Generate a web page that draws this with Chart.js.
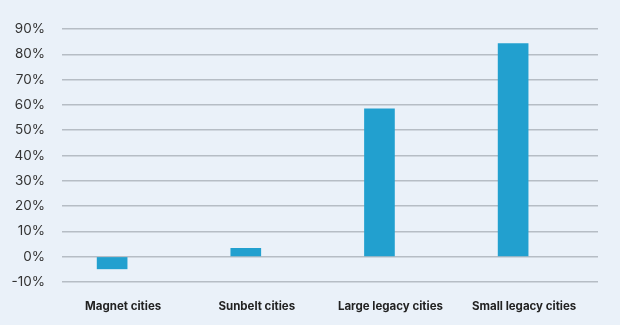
<!DOCTYPE html>
<html>
<head>
<meta charset="utf-8">
<script src="https://cdn.jsdelivr.net/npm/chart.js@4"></script>
<style>
  html, body { margin: 0; padding: 0; background: #eaf1f9; }
  #wrap { width: 620px; height: 325px; position: relative; }
</style>
</head>
<body>
<div id="wrap"><canvas id="chart"></canvas></div>
<script>
const categories = ['Magnet cities', 'Sunbelt cities', 'Large legacy cities', 'Small legacy cities'];
const changePct = [-4.8, 3.3, 58.4, 84.2];
const yTicks = [-10, 0, 10, 20, 30, 40, 50, 60, 70, 80, 90];

const ctx = document.getElementById('chart').getContext('2d');
new Chart(ctx, {
  type: 'bar',
  data: {
    datasets: [{
      data: changePct.map((v, i) => ({ x: i, y: v })),
      backgroundColor: '#22a0cf',
      barThickness: 30
    }]
  },
  options: {
    responsive: true,
    maintainAspectRatio: false,
    animation: false,
    layout: { padding: { left: 0, right: 22, top: 29, bottom: 0 } },
    plugins: { legend: { display: false }, tooltip: { enabled: false } },
    scales: {
      x: {
        type: 'linear',
        offset: false,
        min: -0.375,
        max: 3.635,
        grid: { display: false },
        border: { display: false },
        afterBuildTicks: s => { s.ticks = categories.map((c, i) => ({ value: i })); },
        afterFit: s => { s.height = 43; },
        ticks: {
          callback: v => categories[v],
          color: '#222',
          font: { family: 'Inter', size: 11.5, weight: 'bold' },
          padding: 10,
          labelOffset: 11,
          maxRotation: 0
        }
      },
      y: {
        min: -10,
        max: 90,
        afterBuildTicks: s => { s.ticks = yTicks.map(v => ({ value: v })); },
        afterFit: s => { s.width = 62; },
        grid: { color: '#b6bdc5', lineWidth: 1.5, drawTicks: false },
        border: { display: false },
        ticks: {
          callback: v => v + '%',
          color: '#333',
          font: { family: 'Inter', size: 13.5 },
          padding: 17
        }
      }
    }
  }
});
</script>
</body>
</html>
